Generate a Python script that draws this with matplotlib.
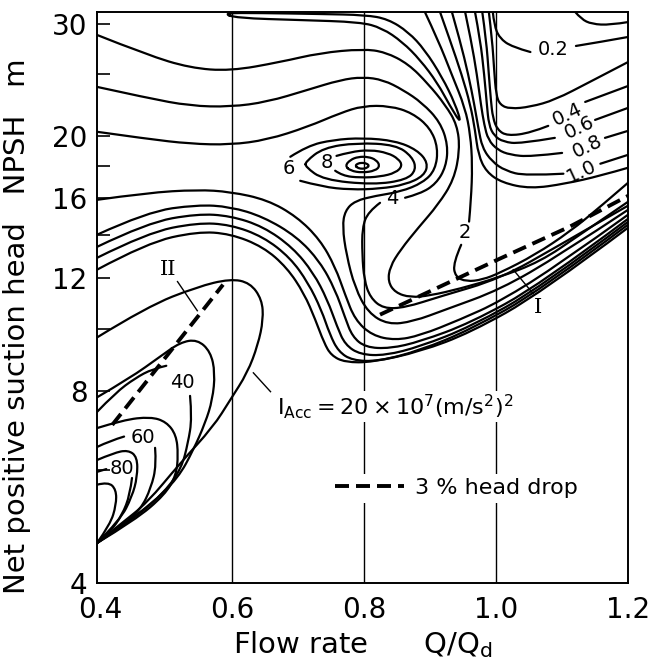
import matplotlib
matplotlib.use("Agg")
import matplotlib.pyplot as plt
from matplotlib.ticker import FixedLocator, FixedFormatter, NullFormatter
from matplotlib.lines import Line2D
from matplotlib.path import Path
from matplotlib.patches import PathPatch

plt.rcParams['font.family'] = ['DejaVu Sans']
plt.rcParams['mathtext.fontset'] = 'dejavusans'

# axis ranges and ticks
q_lim = (0.395, 1.2)
npsh_lim = (4.0, 31.3)
x_ticks = [0.4, 0.6, 0.8, 1.0, 1.2]
x_tick_labels = ['0.4', '0.6', '0.8', '1.0', '1.2']
grid_q = [0.6, 0.8, 1.0]
y_ticks = [4, 8, 12, 16, 20, 30]
y_tick_labels = ['4', '8', '12', '16', '20', '30']
y_minor = [6, 10, 14, 18, 25]

# iso-lines of erosion intensity as (Q/Qd, NPSH m)
# lines that carry a label are split in two parts (a / b)
q_01 = [1.120, 1.129, 1.145, 1.173, 1.2]
h_01 = [31.30, 30.52, 29.97, 29.87, 30.19]

q_02a = [0.995, 0.997, 1.005, 1.024, 1.052]
h_02a = [31.30, 29.87, 28.51, 27.60, 27.10]
q_02b = [1.121, 1.158, 1.2]
h_02b = [27.70, 28.10, 28.61]

q_03 = [0.989, 0.994, 0.997, 1.000, 1.006, 1.021, 1.052, 1.089, 1.142, 1.2]
h_03 = [31.30, 28.30, 25.40, 23.22, 22.40, 22.08, 22.24, 22.80, 24.33, 26.14]

q_04a = [0.979, 0.985, 0.989, 0.992, 0.995, 1.002, 1.017, 1.052, 1.079]
h_04a = [31.30, 28.30, 24.95, 22.80, 21.38, 20.47, 20.03, 20.25, 20.77]
q_04b = [1.135, 1.2]
h_04b = [22.64, 23.98]

q_06a = [0.968, 0.976, 0.982, 0.986, 0.989, 0.997, 1.011, 1.036, 1.089]
h_06a = [31.30, 28.30, 24.95, 22.40, 20.84, 20.03, 19.61, 19.47, 19.89]
q_06b = [1.150, 1.2]
h_06b = [21.22, 22.16]

q_08a = [0.953, 0.962, 0.971, 0.977, 0.982, 0.988, 1.002, 1.021, 1.052, 1.100]
h_08a = [31.30, 28.30, 24.95, 22.40, 20.84, 19.75, 19.05, 18.71, 18.58, 18.84]
q_08b = [1.165, 1.2]
h_08b = [19.89, 20.40]

q_10a = [0.933, 0.945, 0.958, 0.967, 0.973, 0.979, 0.994, 1.014, 1.044, 1.102]
h_10a = [31.30, 28.30, 24.95, 22.40, 20.62, 19.19, 18.25, 17.67, 17.35, 17.48]
q_10b = [1.158, 1.2]
h_10b = [18.12, 18.71]

q_15 = [0.915, 0.930, 0.948, 0.961, 0.968, 0.973, 0.985, 1.009, 1.052, 1.105, 1.158, 1.2]
h_15 = [31.30, 28.30, 24.95, 22.40, 20.47, 18.71, 17.60, 16.92, 16.56, 16.86, 17.35, 17.86]

q_20a = [0.892, 0.912, 0.933, 0.953, 0.961, 0.964, 0.962, 0.959]
h_20a = [31.30, 28.30, 24.95, 22.16, 20.11, 18.05, 15.91, 14.71]
q_20b = [0.947, 0.935, 0.938, 0.955, 0.979, 1.006, 1.059, 1.112, 1.158, 1.2]
h_20b = [13.53, 12.68, 12.06, 11.85, 11.93, 12.23, 13.05, 14.19, 15.52, 16.92]

q_top = [0.585, 0.642, 0.733, 0.802, 0.836, 0.867, 0.892, 0.918, 0.938, 0.948,
         0.930, 0.911, 0.885, 0.858, 0.827, 0.794, 0.703, 0.606, 0.585]
h_top = [31.19, 31.19, 31.08, 30.97, 30.52, 29.13, 27.30, 24.77, 22.48, 20.84,
         22.32, 24.25, 26.33, 28.10, 29.55, 30.19, 30.41, 30.63, 31.19]

q_30 = [0.395, 0.471, 0.536, 0.597, 0.673, 0.733, 0.798, 0.832, 0.867, 0.897,
        0.923, 0.941, 0.945, 0.936, 0.912, 0.882, 0.855, 0.839, 0.836, 0.847,
        0.870, 0.900, 0.945, 1.002, 1.067, 1.127, 1.2]
h_30 = [28.82, 26.82, 25.59, 25.31, 26.14, 27.01, 27.40, 27.10, 25.96, 24.16,
        22.40, 20.84, 19.05, 17.10, 15.63, 14.39, 13.29, 12.50, 11.85, 11.39,
        11.19, 11.27, 11.55, 12.01, 12.73, 14.03, 15.80]

q_40a = [0.395, 0.471, 0.536, 0.597, 0.653, 0.714, 0.764, 0.798, 0.829, 0.859,
         0.888, 0.915, 0.927, 0.924, 0.909, 0.885, 0.862]
h_40a = [23.90, 22.97, 22.32, 22.24, 22.64, 23.64, 24.51, 24.77, 24.51, 23.64,
         22.56, 21.07, 19.40, 17.92, 16.86, 16.26, 16.03]
q_40b = [0.824, 0.806, 0.797, 0.797, 0.800, 0.809, 0.829, 0.862, 0.915, 1.006, 1.097, 1.2]
h_40b = [15.74, 15.24, 14.39, 13.05, 11.93, 11.19, 10.75, 10.79, 11.23, 11.97, 13.53, 15.58]

q_50 = [0.395, 0.471, 0.536, 0.597, 0.653, 0.714, 0.764, 0.798, 0.839, 0.873,
        0.900, 0.912, 0.908, 0.889, 0.855, 0.817, 0.786, 0.771, 0.767, 0.773,
        0.786, 0.806, 0.836, 0.874, 0.923, 1.006, 1.097, 1.2]
h_50 = [20.33, 19.82, 19.47, 19.40, 19.75, 20.69, 21.76, 22.32, 22.32, 21.76,
        20.62, 19.19, 17.73, 16.92, 16.38, 16.14, 15.85, 15.30, 14.45, 13.05,
        11.59, 10.59, 10.15, 10.26, 10.71, 11.51, 13.05, 15.35]

q_60 = [0.688, 0.714, 0.753, 0.798, 0.847, 0.880, 0.897, 0.891, 0.862, 0.824, 0.779, 0.736, 0.703]
h_60 = [18.58, 19.33, 19.75, 19.89, 19.68, 19.05, 18.18, 17.35, 16.80, 16.56, 16.50, 16.68, 17.04]

q_70 = [0.711, 0.738, 0.789, 0.848, 0.873, 0.879, 0.864, 0.814, 0.738, 0.711, 0.711]
h_70 = [18.25, 19.19, 19.54, 19.40, 18.58, 17.73, 17.10, 16.80, 17.10, 17.92, 18.25]

q_80 = [0.758, 0.779, 0.809, 0.836, 0.852, 0.858, 0.848, 0.824, 0.794, 0.767, 0.756]
h_80 = [18.64, 18.91, 19.05, 18.84, 18.44, 17.99, 17.54, 17.29, 17.23, 17.35, 17.67]

q_90 = [0.771, 0.779, 0.791, 0.806, 0.818, 0.824, 0.817, 0.797, 0.779, 0.771]
h_90 = [17.99, 18.38, 18.58, 18.58, 18.38, 17.99, 17.67, 17.54, 17.67, 17.99]

q_100 = [0.786, 0.791, 0.797, 0.803, 0.808, 0.803, 0.797, 0.791, 0.786]
h_100 = [17.99, 18.15, 18.18, 18.15, 17.99, 17.83, 17.79, 17.83, 17.99]

q_low0 = [0.395, 0.471, 0.547, 0.597, 0.653, 0.698, 0.733, 0.756, 0.771, 0.786,
          0.812, 0.847, 0.885, 0.945, 1.006, 1.097, 1.2]
h_low0 = [15.91, 16.32, 16.50, 16.38, 15.91, 14.97, 13.78, 12.50, 11.31, 10.33,
          9.76, 9.59, 9.76, 10.33, 11.03, 12.64, 15.08]

q_low1 = [0.395, 0.471, 0.547, 0.597, 0.647, 0.698, 0.733, 0.756, 0.771, 0.782, 0.802, 0.839, 0.885, 0.961, 1.067, 1.2]
h_low1 = [14.03, 15.24, 15.63, 15.52, 14.97, 13.93, 12.73, 11.51, 10.41, 9.72, 9.35, 9.31, 9.55, 10.21, 11.72, 14.86]
q_low2 = [0.395, 0.471, 0.547, 0.597, 0.647, 0.692, 0.723, 0.744, 0.759, 0.771, 0.794, 0.832, 0.885, 0.961, 1.067, 1.2]
h_low2 = [13.43, 14.65, 15.13, 15.02, 14.45, 13.39, 12.23, 11.11, 10.07, 9.44, 9.11, 9.08, 9.38, 10.07, 11.59, 14.70]
q_low3 = [0.395, 0.471, 0.547, 0.597, 0.647, 0.688, 0.715, 0.735, 0.748, 0.761, 0.782, 0.821, 0.885, 0.961, 1.067, 1.2]
h_low3 = [12.91, 14.13, 14.65, 14.55, 13.93, 12.91, 11.80, 10.71, 9.79, 9.21, 8.92, 8.89, 9.25, 9.97, 11.47, 14.55]
q_low4 = [0.395, 0.471, 0.547, 0.597, 0.647, 0.683, 0.709, 0.726, 0.739, 0.750, 0.771, 0.812, 0.885, 0.961, 1.067, 1.2]
h_low4 = [12.37, 13.63, 14.19, 14.08, 13.43, 12.46, 11.35, 10.33, 9.51, 9.08, 8.86, 8.86, 9.21, 9.86, 11.35, 14.39]

# acceleration intensity lines, lower left
q_acc20 = [0.395, 0.471, 0.547, 0.597, 0.627, 0.645, 0.647, 0.639, 0.623, 0.597, 0.571, 0.521, 0.471, 0.430, 0.395]
h_acc20 = [9.69, 10.83, 11.63, 11.97, 11.80, 11.11, 10.33, 9.44, 8.53, 7.74, 7.02, 6.16, 5.34, 4.94, 4.62]
q_acc30 = [0.395, 0.445, 0.491, 0.521, 0.547, 0.567, 0.574, 0.570, 0.559, 0.541, 0.518, 0.476, 0.430, 0.395]
h_acc30 = [7.81, 8.37, 9.05, 9.52, 9.62, 9.21, 8.53, 7.74, 7.12, 6.46, 5.84, 5.30, 4.91, 4.62]
q_acc40a = [0.395, 0.423, 0.453, 0.479, 0.500]
h_acc40a = [7.41, 7.94, 8.37, 8.65, 8.75]
q_acc40b = [0.536, 0.539, 0.533, 0.523, 0.498, 0.453, 0.395]
h_acc40b = [7.85, 7.25, 6.63, 6.05, 5.56, 5.06, 4.62]
q_acc50 = [0.395, 0.435, 0.476, 0.500, 0.515, 0.518, 0.515, 0.498, 0.453, 0.395]
h_acc50 = [6.99, 7.20, 7.28, 7.15, 6.82, 6.35, 5.90, 5.50, 5.02, 4.62]
q_acc60a = [0.395, 0.415, 0.436]
h_acc60a = [6.53, 6.68, 6.78]
q_acc60b = [0.483, 0.485, 0.477, 0.461, 0.430, 0.395]
h_acc60b = [6.51, 6.12, 5.64, 5.21, 4.89, 4.62]
q_acc70 = [0.395, 0.420, 0.442, 0.456, 0.456, 0.448, 0.430, 0.395]
h_acc70 = [6.23, 6.39, 6.46, 6.30, 5.86, 5.46, 5.02, 4.62]
q_acc80a = [0.395, 0.409]
h_acc80a = [5.97, 6.03]
q_acc80b = [0.448, 0.445, 0.433, 0.415, 0.395]
h_acc80b = [5.84, 5.50, 5.11, 4.81, 4.62]
q_acc90 = [0.395, 0.412, 0.424, 0.424, 0.415, 0.395]
h_acc90 = [5.70, 5.76, 5.60, 5.30, 4.94, 4.62]

# 3 % head drop lines
q_drop1 = [0.824, 1.002, 1.112, 1.2]
h_drop1 = [10.52, 12.82, 14.45, 16.14]
q_drop2 = [0.418, 0.586]
h_drop2 = [7.07, 11.72]

# inline labels: text, Q, NPSH, rotation
contour_labels = [
    ('0.2', 1.086, 27.30, 0), ('0.4', 1.108, 21.61, 25), ('0.6', 1.126, 20.62, 25),
    ('0.8', 1.139, 19.26, 25), ('1.0', 1.130, 17.60, 25), ('2', 0.952, 14.14, 0),
    ('4', 0.842, 15.97, 0), ('6', 0.686, 17.79, 0), ('8', 0.744, 18.18, 0),
    ('40', 0.524, 8.25, 0), ('60', 0.465, 6.75, 0), ('80', 0.433, 6.05, 0),
]


def set_up_canvas():
    fig = plt.figure(figsize=(6.53, 6.65), dpi=100)
    ax = fig.add_axes([0.1486, 0.1233, 0.8132, 0.8586])
    ax.set_yscale('log')
    ax.set_xlim(*q_lim)
    ax.set_ylim(*npsh_lim)

    ax.yaxis.set_major_locator(FixedLocator(y_ticks))
    ax.yaxis.set_major_formatter(FixedFormatter(y_tick_labels))
    ax.yaxis.set_minor_locator(FixedLocator(y_minor))
    ax.yaxis.set_minor_formatter(NullFormatter())
    ax.set_xticks(x_ticks)
    ax.set_xticklabels(x_tick_labels)

    ax.tick_params(axis='y', which='both', direction='in', length=9, width=1.2,
                   labelsize=20, pad=7)
    ax.tick_params(axis='x', length=0, labelsize=20, pad=9)
    for s in ax.spines.values():
        s.set_linewidth(1.4)

    # vertical grid lines only
    for q in grid_q:
        ax.axvline(q, color='black', lw=1.0, zorder=1)

    ax.set_xlabel('Flow rate      Q/Q$_{\\mathregular{d}}$', fontsize=21, labelpad=4)
    ax.set_ylabel('Net positive suction head   NPSH   m', fontsize=21)
    ax.yaxis.set_label_coords(-0.125, 0.45)
    return fig, ax


def smooth_path(q, h):
    # quadratic bezier through the read points (midpoint scheme), y taken on log axis
    pts = list(zip(q, h))
    closed = pts[0] == pts[-1]

    def mid(a, b):
        return ((a[0] + b[0]) / 2, (a[1] * b[1]) ** 0.5)

    if closed:
        pts = pts[:-1]
        n = len(pts)
        verts = [mid(pts[-1], pts[0])]
        codes = [Path.MOVETO]
        for i in range(n):
            verts += [pts[i], mid(pts[i], pts[(i + 1) % n])]
            codes += [Path.CURVE3, Path.CURVE3]
        return Path(verts, codes)

    n = len(pts)
    if n < 3:
        return Path(pts)
    verts = [pts[0]]
    codes = [Path.MOVETO]
    for i in range(1, n - 1):
        end = pts[-1] if i == n - 2 else mid(pts[i], pts[i + 1])
        verts += [pts[i], end]
        codes += [Path.CURVE3, Path.CURVE3]
    return Path(verts, codes)


def draw(ax, q, h, lw=1.6):
    patch = PathPatch(smooth_path(q, h), facecolor='none', edgecolor='black', lw=lw,
                      capstyle='round', joinstyle='round', zorder=3)
    ax.add_patch(patch)


fig, ax = set_up_canvas()

lines = [
    (q_01, h_01), (q_02a, h_02a), (q_02b, h_02b), (q_03, h_03),
    (q_04a, h_04a), (q_04b, h_04b), (q_06a, h_06a), (q_06b, h_06b),
    (q_08a, h_08a), (q_08b, h_08b), (q_10a, h_10a), (q_10b, h_10b),
    (q_15, h_15), (q_20a, h_20a), (q_20b, h_20b), (q_top, h_top),
    (q_30, h_30), (q_40a, h_40a), (q_40b, h_40b), (q_50, h_50),
    (q_60, h_60), (q_70, h_70), (q_80, h_80), (q_90, h_90), (q_100, h_100),
    (q_low0, h_low0), (q_low1, h_low1), (q_low2, h_low2), (q_low3, h_low3), (q_low4, h_low4),
    (q_acc20, h_acc20), (q_acc30, h_acc30), (q_acc40a, h_acc40a), (q_acc40b, h_acc40b),
    (q_acc50, h_acc50), (q_acc60a, h_acc60a), (q_acc60b, h_acc60b), (q_acc70, h_acc70),
    (q_acc80a, h_acc80a), (q_acc80b, h_acc80b), (q_acc90, h_acc90),
]
for q, h in lines:
    draw(ax, q, h)

dash = (0, (3.6, 1.8))
for q, h in [(q_drop1, h_drop1), (q_drop2, h_drop2)]:
    ax.plot(q, h, color='black', lw=2.8, linestyle=dash, dash_capstyle='butt', zorder=4)

for txt, q, h, rot in contour_labels:
    ax.text(q, h, txt, fontsize=14, rotation=rot, ha='center', va='center', zorder=5)

# roman numeral tags with leader lines
ax.text(0.503, 12.37, 'II', family='DejaVu Serif', fontsize=15, ha='center', va='center')
ax.plot([0.517, 0.547], [11.85, 10.67], color='black', lw=1.0)
ax.text(1.064, 10.79, 'I', family='DejaVu Serif', fontsize=15, ha='center', va='center')
ax.plot([1.026, 1.056], [12.37, 11.35], color='black', lw=1.0)

# acceleration intensity annotation
ax.text(0.668, 7.55, r'$\mathregular{I_{Acc}=20\times10^7(m/s^2)^2}$', fontsize=16,
        ha='left', va='center', zorder=5,
        bbox=dict(facecolor='white', edgecolor='none', pad=1))
ax.plot([0.632, 0.658], [8.53, 7.97], color='black', lw=1.0)

handle = Line2D([], [], color='black', lw=2.8, linestyle=dash, dash_capstyle='butt')
ax.legend([handle], ['3 % head drop'], loc='center left', bbox_to_anchor=(0.44, 0.166),
          fontsize=16, frameon=True, facecolor='white', edgecolor='none', framealpha=1,
          handlelength=3.1, handletextpad=0.5, borderpad=0.2, borderaxespad=0)

fig.savefig('out.png', dpi=100)
